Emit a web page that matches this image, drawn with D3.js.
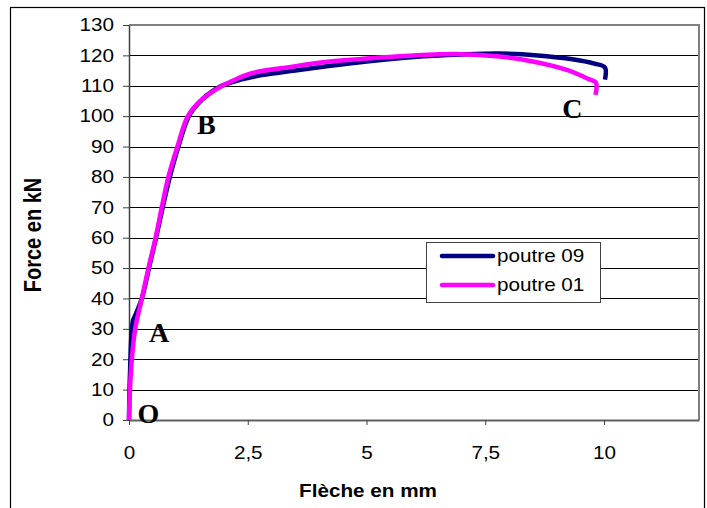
<!DOCTYPE html>
<html>
<head>
<meta charset="utf-8">
<script src="https://cdn.jsdelivr.net/npm/d3@7/dist/d3.min.js"></script>
<style>
  body { margin: 0; background: #fff; }
  text { font-family: Arial, "Liberation Sans", sans-serif; }
  .point-labels text { font-family: "Liberation Serif", "Times New Roman", serif; }
</style>
</head>
<body>
<div class="chart-container"></div>
<script>
// data (fleche in mm, force in kN)
const poutre09X = [0, 0.01, 0.03, 0.06, 0.09, 0.12, 0.27, 0.42, 0.57, 0.71, 0.86, 1.04, 1.26, 1.45, 1.65, 1.95, 2.35, 2.8, 3.5, 4.2, 5.0, 6.0, 7.0, 7.8, 8.6, 9.3, 9.8, 10.02, 10.02];
const poutre09Y = [0, 10, 20, 30, 33, 34, 40, 50, 60, 70, 80, 90, 100, 104, 107, 110, 112, 113.5, 115, 116.5, 118, 119.5, 120.3, 120.6, 120, 118.8, 117.3, 116, 112];

const poutre01X = [0, 0.02, 0.06, 0.13, 0.27, 0.41, 0.56, 0.69, 0.83, 1.02, 1.24, 1.5, 1.8, 2.2, 2.6, 3.4, 4.0, 5.0, 6.0, 7.0, 7.8, 8.5, 9.2, 9.68, 9.83, 9.82];
const poutre01Y = [0, 10, 20, 30, 40, 50, 60, 70, 80, 90, 100, 105, 108.5, 111.8, 114.2, 116.2, 117.6, 119, 120, 120.4, 119.6, 118, 115.3, 112.2, 111, 107];

const xTicks = [0, 2.5, 5, 7.5, 10];
const yTicks = [0, 10, 20, 30, 40, 50, 60, 70, 80, 90, 100, 110, 120, 130];

const seriesNames = ['poutre 09', 'poutre 01'];
const seriesColors = ['#000080', '#ff00ff'];

// point labels on the curves
const pointLabels = ['O', 'A', 'B', 'C'];
const pointLabelX = [0.18, 0.42, 1.43, 9.12];
const pointLabelY = [-1, 25.7, 94.1, 99.4];

const stretchX = 1.15; // the source image is a bit wider than tall

const margin = { top: 25, right: 8, bottom: 88, left: 129 };
const width = 707 - margin.left - margin.right;
const height = 508 - margin.top - margin.bottom;

const svgRoot = d3.select('.chart-container')
    .append('svg')
    .attr('width', 707)
    .attr('height', 508);

// outer frame
svgRoot.append('rect')
    .attr('x', 10.5)
    .attr('y', 7.5)
    .attr('width', 694)
    .attr('height', 600)
    .attr('fill', 'none')
    .attr('stroke', '#000')
    .attr('stroke-width', 1.2);

const svg = svgRoot.append('g')
    .attr('transform', `translate(${margin.left}, ${margin.top})`);

// scales
const xScale = d3.scaleLinear().domain([0, 12]).range([0, width]);
const yScale = d3.scaleLinear().domain([0, 130]).range([height, 0]);

// gridlines
svg.append('g')
    .attr('class', 'grid')
    .selectAll('line')
    .data(yTicks.filter(d => d > 0 && d < 130))
    .enter()
    .append('line')
    .attr('x1', 0)
    .attr('x2', width)
    .attr('y1', d => Math.round(yScale(d)) + 0.5)
    .attr('y2', d => Math.round(yScale(d)) + 0.5)
    .attr('stroke', '#000')
    .attr('stroke-width', 1);

// plot area border (top and right)
svg.append('path')
    .attr('d', `M0,${yScale(130)}H${width}V${height}`)
    .attr('fill', 'none')
    .attr('stroke', '#808080')
    .attr('stroke-width', 2);

// axes
const yAxis = d3.axisLeft(yScale)
    .tickValues(yTicks)
    .tickSizeInner(6)
    .tickSizeOuter(0)
    .tickPadding(7);

const yAxisDraw = svg.append('g')
    .attr('class', 'y axis')
    .call(yAxis);

yAxisDraw.select('.domain').attr('stroke', '#404040').attr('stroke-width', 1.5);
yAxisDraw.selectAll('.tick line').attr('stroke', '#404040');
yAxisDraw.selectAll('text')
    .attr('font-size', 18)
    .attr('fill', '#000')
    .attr('transform', `scale(${stretchX},1)`);

const xAxis = d3.axisBottom(xScale)
    .tickValues(xTicks)
    .tickFormat(d => String(d).replace('.', ','))
    .tickSizeInner(5)
    .tickSizeOuter(0)
    .tickPadding(21);

const xAxisDraw = svg.append('g')
    .attr('class', 'x axis')
    .attr('transform', `translate(0, ${height})`)
    .call(xAxis);

xAxisDraw.select('.domain').attr('stroke', '#606060').attr('stroke-width', 2);
xAxisDraw.selectAll('.tick line').attr('stroke', '#404040');
xAxisDraw.selectAll('text')
    .attr('font-size', 18)
    .attr('fill', '#000')
    .attr('transform', `scale(${stretchX},1)`);

// axis titles
svgRoot.append('text')
    .attr('transform', `translate(368, 497) scale(${stretchX},1)`)
    .attr('text-anchor', 'middle')
    .attr('font-size', 18)
    .attr('font-weight', 'bold')
    .text('Flèche en mm');

svgRoot.append('text')
    .attr('transform', `translate(41, 235) scale(${stretchX},1) rotate(-90)`)
    .attr('text-anchor', 'middle')
    .attr('font-size', 20)
    .attr('font-weight', 'bold')
    .text('Force en kN');

// curves
const line = d3.line()
    .x(d => xScale(d[0]))
    .y(d => yScale(d[1]))
    .curve(d3.curveCatmullRom.alpha(0.5));

const seriesData = [
    d3.zip(poutre09X, poutre09Y),
    d3.zip(poutre01X, poutre01Y)
];

svg.append('g')
    .attr('class', 'curves')
    .selectAll('path')
    .data(seriesData)
    .enter()
    .append('path')
    .attr('d', line)
    .attr('fill', 'none')
    .attr('stroke', (d, i) => seriesColors[i])
    .attr('stroke-width', 4.5)
    .attr('stroke-linejoin', 'round');

// point labels O, A, B, C
svg.append('g')
    .attr('class', 'point-labels')
    .selectAll('text')
    .data(pointLabels)
    .enter()
    .append('text')
    .attr('x', (d, i) => xScale(pointLabelX[i]))
    .attr('y', (d, i) => yScale(pointLabelY[i]))
    .attr('font-weight', 'bold')
    .attr('font-size', 28)
    .attr('fill', '#000')
    .text(d => d);

// legend
const legend = svgRoot.append('g')
    .attr('class', 'legend')
    .attr('transform', 'translate(426, 242)');

legend.append('rect')
    .attr('x', 0.5)
    .attr('y', 0.5)
    .attr('width', 174)
    .attr('height', 60)
    .attr('fill', '#fff')
    .attr('stroke', '#404040')
    .attr('stroke-width', 1);

const legendItem = legend.selectAll('.legend-item')
    .data(seriesNames)
    .enter()
    .append('g')
    .attr('class', 'legend-item')
    .attr('transform', (d, i) => `translate(0, ${14 + i * 29})`);

legendItem.append('line')
    .attr('x1', 16)
    .attr('x2', 67)
    .attr('stroke', (d, i) => seriesColors[i])
    .attr('stroke-width', 4.5)
    .attr('stroke-linecap', 'round');

legendItem.append('text')
    .attr('transform', `translate(71, 6) scale(${stretchX},1)`)
    .attr('font-size', 18)
    .attr('fill', '#000')
    .text(d => d);
</script>
</body>
</html>
